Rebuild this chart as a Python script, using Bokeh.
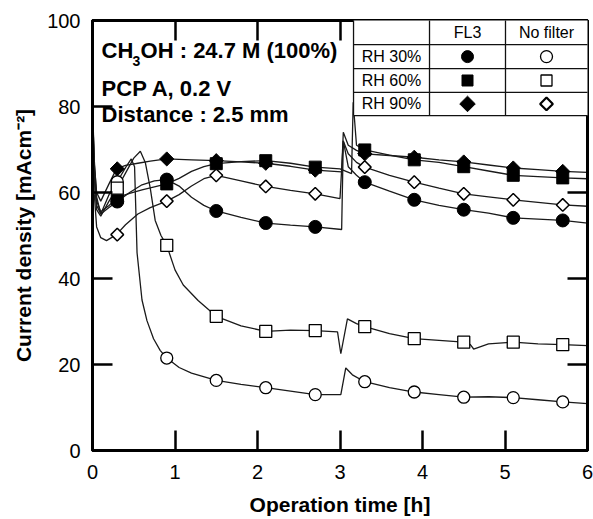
import numpy as np
from bokeh.plotting import figure
from bokeh.models import LinearAxis, Range1d, FixedTicker
from bokeh.core.properties import value
from bokeh.embed import file_html
from bokeh.resources import INLINE

FONT = "Liberation Sans"

# ---------------- data ----------------
x_ticks = [0, 1, 2, 3, 4, 5, 6]
y_ticks = [0, 20, 40, 60, 80, 100]

# marker positions (every 0.6 h)
marker_t = [0.3, 0.9, 1.5, 2.1, 2.7, 3.3, 3.9, 4.5, 5.1, 5.7]
fl3_30_m = [57.9, 63.0, 55.7, 52.9, 52.0, 62.4, 58.3, 56.0, 54.1, 53.5]
fl3_60_m = [58.9, 62.0, 66.7, 67.4, 65.9, 69.9, 67.6, 66.0, 64.0, 63.4]
fl3_90_m = [65.5, 67.8, 67.4, 66.8, 65.2, 69.0, 68.2, 67.1, 65.7, 64.9]
nf_30_m = [62.5, 21.5, 16.3, 14.6, 13.0, 16.0, 13.6, 12.4, 12.3, 11.3]
nf_60_m = [61.0, 47.7, 31.2, 27.7, 27.9, 28.8, 26.0, 25.2, 25.2, 24.6]
nf_90_m = [50.2, 58.0, 64.0, 61.4, 59.7, 65.9, 62.4, 59.7, 58.3, 57.1]

# continuous recordings
fl3_30_t = [0, 0.02, 0.05, 0.1, 0.2, 0.3, 0.45, 0.6, 0.75, 0.9, 1.05, 1.2, 1.35, 1.5, 1.8, 2.1,
            2.4, 2.7, 3.02, 3.04, 3.1, 3.2, 3.3, 3.6, 3.9, 4.2, 4.5, 4.8, 5.1, 5.4, 5.7, 6.0]
fl3_30_y = [81, 68, 59, 55, 56.5, 57.9, 60, 61.8, 62.7, 63, 61.5, 58.9, 57, 55.7, 54.2, 52.9,
            52.4, 52.0, 51.4, 72, 66, 64, 62.4, 60.3, 58.3, 57, 56.0, 55.2, 54.1, 53.8, 53.5, 52.9]

fl3_60_t = [0, 0.02, 0.05, 0.1, 0.2, 0.31, 0.45, 0.6, 0.75, 0.9, 1.05, 1.2, 1.35, 1.5, 1.8, 2.1,
            2.4, 2.7, 3.0, 3.14, 3.16, 3.2, 3.3, 3.6, 3.9, 4.2, 4.5, 4.8, 5.1, 5.4, 5.7, 6.0]
fl3_60_y = [82, 66, 58, 55.5, 57, 58.9, 59.8, 60.6, 61.3, 62, 63.3, 64.9, 66, 66.7, 67.2, 67.4,
            66.8, 65.9, 65.5, 64.4, 81, 71, 69.9, 68.7, 67.6, 67, 66.0, 65, 64.0, 63.7, 63.4, 63.2]

fl3_90_t = [0, 0.02, 0.05, 0.1, 0.2, 0.29, 0.4, 0.55, 0.7, 0.9, 1.2, 1.5, 1.8, 2.1, 2.4, 2.7,
            3.02, 3.04, 3.1, 3.2, 3.3, 3.6, 3.9, 4.2, 4.5, 4.8, 5.1, 5.4, 5.7, 6.0]
fl3_90_y = [80, 67, 60, 58, 62, 65.5, 66.3, 66.8, 67.3, 67.8, 67.6, 67.4, 67.1, 66.8, 66.1, 65.2,
            64.8, 74, 71, 69.8, 69.0, 68.6, 68.2, 67.6, 67.1, 66.4, 65.7, 65.3, 64.9, 64.7]

nf_30_t = [0, 0.02, 0.05, 0.1, 0.2, 0.3, 0.4, 0.47, 0.51, 0.54, 0.6, 0.66, 0.74, 0.82, 0.9, 1.05,
           1.2, 1.5, 1.8, 2.1, 2.4, 2.7, 3.01, 3.07, 3.15, 3.3, 3.6, 3.9, 4.2, 4.5, 4.8, 5.1,
           5.4, 5.7, 6.0]
nf_30_y = [80, 65, 57, 55, 59.5, 62.5, 65.8, 67.8, 66, 46, 35, 30.2, 26, 23.3, 21.5, 19.3,
           18, 16.3, 15.4, 14.6, 13.8, 13.0, 13.0, 19.2, 17.6, 16.0, 14.6, 13.6, 13.0, 12.4, 12.5, 12.3,
           11.8, 11.3, 10.9]

nf_60_t = [0, 0.02, 0.05, 0.1, 0.2, 0.3, 0.4, 0.5, 0.58, 0.64, 0.7, 0.76, 0.83, 0.9, 1.0, 1.1,
           1.28, 1.5, 1.8, 2.1, 2.4, 2.7, 2.97, 3.01, 3.09, 3.2, 3.3, 3.6, 3.9, 4.2, 4.5, 4.58,
           4.62, 4.8, 5.1, 5.4, 5.7, 6.0]
nf_60_y = [80, 64, 56, 54.5, 58, 61, 64.5, 68, 69.6, 67, 61, 53.5, 50, 47.7, 42, 38.5,
           34.9, 31.2, 29, 27.7, 28, 27.9, 27.6, 22.5, 30.6, 29.5, 28.8, 27.2, 26.0, 25.6, 25.2, 24.6,
           23.6, 24.8, 25.2, 24.8, 24.6, 24.4]

nf_90_t = [0, 0.02, 0.05, 0.1, 0.17, 0.29, 0.4, 0.55, 0.7, 0.9, 1.05, 1.2, 1.35, 1.5, 1.8, 2.1,
           2.4, 2.7, 3.0, 3.04, 3.1, 3.2, 3.3, 3.6, 3.9, 4.2, 4.5, 4.8, 5.1, 5.4, 5.7, 6.0]
nf_90_y = [80, 60, 52, 49.5, 48.8, 50.2, 52.5, 55, 56.5, 58, 59.5, 61.5, 63.2, 64, 62.7, 61.4,
           60.5, 59.7, 58.6, 72, 69, 67, 65.9, 64, 62.4, 61, 59.7, 59, 58.3, 57.7, 57.1, 56.8]

# legend table
row_labels = ["RH 30%", "RH 60%", "RH 90%"]
col_labels = ["FL3", "No filter"]
tbl_x = [3.164, 4.085, 5.006, 6.0]
tbl_y = [100, 94.4, 88.8, 83.3, 77.9]

# ---------------- figure ----------------
p = figure(width=593, height=519, x_range=Range1d(0, 6), y_range=Range1d(0, 100),
           output_backend="svg", toolbar_location=None,
           min_border_left=92, min_border_right=6, min_border_top=20, min_border_bottom=69)
p.grid.visible = False
p.background_fill_color = "white"
p.border_fill_color = "white"
p.outline_line_color = "black"
p.outline_line_width = 3


def style_axis(ax, ticks, labels=True):
    ax.ticker = FixedTicker(ticks=ticks)
    ax.axis_line_color = "black"
    ax.axis_line_width = 3
    ax.major_tick_in = 20
    ax.major_tick_out = 0
    ax.major_tick_line_width = 2.5
    ax.major_tick_line_color = "black"
    ax.minor_tick_line_color = None
    ax.major_label_text_font = FONT
    if labels:
        ax.major_label_text_color = "black"
        ax.major_label_text_font_size = "20px"
        ax.major_label_standoff = 12
    else:
        ax.major_label_text_color = None
        ax.major_label_text_font_size = "1px"
        ax.major_label_standoff = 0


style_axis(p.xaxis[0], x_ticks)
style_axis(p.yaxis[0], y_ticks)
p.xaxis[0].major_label_standoff = 14
p.xaxis[0].axis_label = "Operation time [h]"
p.yaxis[0].axis_label = "Current density [mAcm\u207b\u00b2]"
for ax in (p.xaxis[0], p.yaxis[0]):
    ax.axis_label_text_font = FONT
    ax.axis_label_text_font_style = "bold"
    ax.axis_label_text_font_size = "21px"
    ax.axis_label_text_color = "black"
p.xaxis[0].axis_label_standoff = 11
p.yaxis[0].axis_label_standoff = 9

top_ax = LinearAxis()
style_axis(top_ax, x_ticks, labels=False)
p.add_layout(top_ax, "above")
right_ax = LinearAxis()
style_axis(right_ax, y_ticks, labels=False)
p.add_layout(right_ax, "right")

LINE = "#1a1a1a"
for t, y in [(fl3_30_t, fl3_30_y), (fl3_60_t, fl3_60_y), (fl3_90_t, fl3_90_y),
             (nf_30_t, nf_30_y), (nf_60_t, nf_60_y), (nf_90_t, nf_90_y)]:
    p.line(t, y, line_color=LINE, line_width=1.3)

# filled markers (FL3)
p.scatter(marker_t, fl3_30_m, marker="circle", size=13, fill_color="black", line_color="black")
p.scatter(marker_t, fl3_60_m, marker="square", size=12, fill_color="black", line_color="black")
p.scatter(marker_t, fl3_90_m, marker="square", angle=np.pi / 4, size=10,
          fill_color="black", line_color="black")
# open markers (No filter)
p.scatter(marker_t, nf_30_m, marker="circle", size=12, fill_color="white", line_color="black",
          line_width=1.3)
p.scatter(marker_t, nf_60_m, marker="square", size=12, fill_color="white", line_color="black",
          line_width=1.3)
p.scatter(marker_t, nf_90_m, marker="square", angle=np.pi / 4, size=9, fill_color="white",
          line_color="black", line_width=1.5)

# annotation text
ann_x = 0.11
ann_y = [93.0, 84.2, 78.1]
p.text(x=[ann_x], y=[ann_y[0]], text=["CH"], text_font=value(FONT), text_font_style="bold",
       text_font_size="22px", text_color="black", text_baseline="alphabetic", text_align="left")
p.text(x=[ann_x], y=[ann_y[0]], text=["3"], x_offset=31, y_offset=10, text_font=value(FONT),
       text_font_style="bold", text_font_size="14px", text_color="black",
       text_baseline="alphabetic", text_align="left")
p.text(x=[ann_x], y=[ann_y[0]], text=["OH : 24.7 M (100%)"], x_offset=39, text_font=value(FONT),
       text_font_style="bold", text_font_size="22px", text_color="black",
       text_baseline="alphabetic", text_align="left")
p.text(x=[ann_x, ann_x], y=ann_y[1:], text=["PCP A, 0.2 V", "Distance : 2.5 mm"],
       text_font=value(FONT), text_font_style="bold", text_font_size="22px", text_color="black",
       text_baseline="alphabetic", text_align="left")

# legend table
p.quad(left=[tbl_x[0]], right=[tbl_x[-1]], top=[tbl_y[0]], bottom=[tbl_y[-1]],
       fill_color="white", line_color=None, level="overlay")
xs = [[tbl_x[0], tbl_x[-1]] for _ in tbl_y[1:]] + [[xx, xx] for xx in tbl_x[:-1]]
ys = [[yy, yy] for yy in tbl_y[1:]] + [[tbl_y[0], tbl_y[-1]] for _ in tbl_x[:-1]]
p.multi_line(xs, ys, line_color="#111111", line_width=1.3, level="overlay")

col_c = [(tbl_x[i] + tbl_x[i + 1]) / 2 for i in range(3)]
row_c = [(tbl_y[i] + tbl_y[i + 1]) / 2 for i in range(4)]
p.text(x=col_c[1:], y=[row_c[0]] * 2, text=col_labels, text_font=value(FONT),
       text_font_size="16px", text_color="black", text_align="center", text_baseline="middle",
       level="overlay")
p.text(x=[col_c[0]] * 3, y=row_c[1:], text=row_labels, text_font=value(FONT),
       text_font_size="16px", text_color="black", text_align="center", text_baseline="middle",
       level="overlay")
p.scatter([col_c[1]], [row_c[1]], marker="circle", size=12, fill_color="black",
          line_color="black", level="overlay")
p.scatter([col_c[1]], [row_c[2]], marker="square", size=11, fill_color="black",
          line_color="black", level="overlay")
p.scatter([col_c[1]], [row_c[3]], marker="square", angle=np.pi / 4, size=11,
          fill_color="black", line_color="black", level="overlay")
p.scatter([col_c[2]], [row_c[1]], marker="circle", size=12, fill_color="white",
          line_color="black", line_width=1.3, level="overlay")
p.scatter([col_c[2]], [row_c[2]], marker="square", size=11, fill_color="white",
          line_color="black", line_width=1.3, level="overlay")
p.scatter([col_c[2]], [row_c[3]], marker="square", angle=np.pi / 4, size=9, fill_color="white",
          line_color="black", line_width=2.2, level="overlay")

open("out.html", "w").write(file_html(p, INLINE))
